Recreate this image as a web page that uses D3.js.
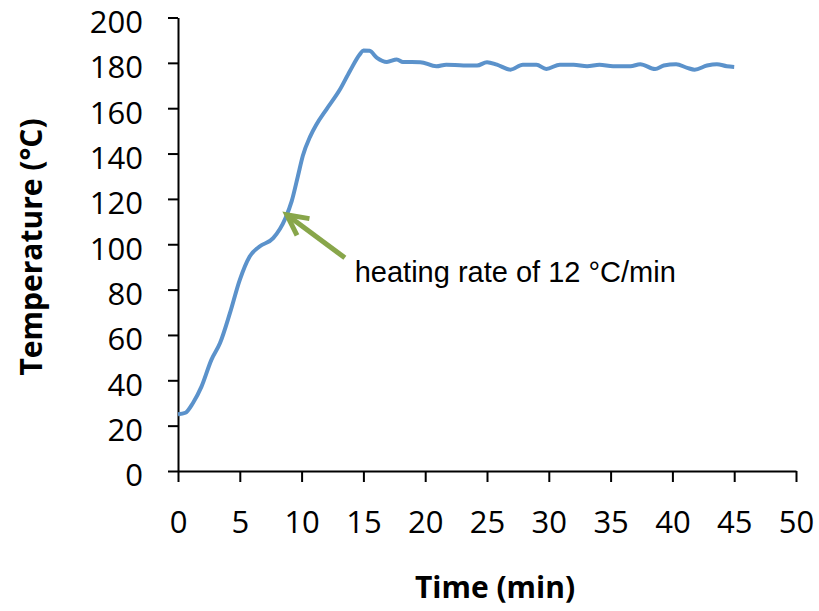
<!DOCTYPE html>
<html>
<head>
<meta charset="utf-8">
<title>Temperature vs time</title>
<script src="https://d3js.org/d3.v7.min.js"></script>
<style>
  body { margin: 0; background: #fff; }
  .axis text { font-family: "Open Sans", sans-serif; font-size: 31px; fill: #000; }
  .axis path, .axis line { stroke: #000; stroke-width: 2px; }
  .title { font-family: "Open Sans", sans-serif; font-weight: bold; font-size: 30px; }
</style>
</head>
<body>
<script>
// time (min) and temperature (°C)
var timeMin = [0, 0.6, 1.2, 1.9, 2.7, 3.4, 4.2, 5.0, 5.8, 6.6, 7.7, 8.7, 9.2, 9.7, 10.1, 10.7, 11.2, 12.0, 13.1, 13.9, 14.7, 15.0, 15.5, 16.1, 16.9, 17.7, 18.2, 19.6, 20.9, 21.7, 23.1, 24.2, 25.0, 25.8, 26.9, 27.9, 29.0, 29.8, 30.9, 32.0, 33.1, 34.1, 35.2, 36.6, 37.4, 38.6, 39.3, 40.3, 41.2, 41.8, 42.8, 43.6, 44.4, 45.0];
var tempC = [25, 25.7, 29.9, 37.2, 49, 56.4, 69.6, 84.3, 94.6, 99, 102.7, 111.6, 119, 130, 139, 147.6, 152.8, 159.4, 168.2, 176.3, 183.7, 185.5, 185.3, 182.2, 180.4, 181.5, 180.4, 180.3, 178.5, 179.2, 178.8, 178.8, 180.3, 179.2, 177, 179.2, 179.2, 177.3, 179.2, 179.2, 178.5, 179.2, 178.5, 178.5, 179.4, 177.3, 178.8, 179.4, 177.8, 177, 178.8, 179.4, 178.5, 178.2];
var xTicks = [0, 5, 10, 15, 20, 25, 30, 35, 40, 45, 50];
var yTicks = [0, 20, 40, 60, 80, 100, 120, 140, 160, 180, 200];
// annotation: arrow tail/tip and label position in data units
var arrowTail = [13.5, 94];
var arrowTip = [8.8, 113];
var noteAt = [14.3, 83.5];
var noteText = "heating rate of 12 °C/min";

var width = 819, height = 611;
var margin = {top: 17.5, right: 23, bottom: 140, left: 178};

var svg = d3.select("body").append("svg")
  .attr("width", width)
  .attr("height", height);

var x = d3.scaleLinear().domain([0, 50]).range([margin.left, width - margin.right]);
var y = d3.scaleLinear().domain([0, 200]).range([height - margin.bottom, margin.top]);

svg.append("g")
  .attr("class", "axis")
  .attr("transform", "translate(0," + y(0) + ")")
  .call(d3.axisBottom(x).tickValues(xTicks).tickSize(11).tickSizeOuter(0).tickPadding(29));

svg.append("g")
  .attr("class", "axis")
  .attr("transform", "translate(" + x(0) + ",0)")
  .call(d3.axisLeft(y).tickValues(yTicks).tickSize(10).tickSizeOuter(0).tickPadding(25))
  .selectAll("text").attr("dy", "0.48em");

var data = timeMin.map(function(t, i) { return {t: t, v: tempC[i]}; });

var line = d3.line()
  .x(function(d) { return x(d.t); })
  .y(function(d) { return y(d.v); })
  .curve(d3.curveMonotoneX);

svg.append("path")
  .datum(data)
  .attr("fill", "none")
  .attr("stroke", "#5b92cb")
  .attr("stroke-width", 4)
  .attr("stroke-linejoin", "round")
  .attr("d", line);

// arrow
var green = "#88a64a";
var tx = x(arrowTip[0]), ty = y(arrowTip[1]);
var sx = x(arrowTail[0]), sy = y(arrowTail[1]);
var ang = Math.atan2(sy - ty, sx - tx);
var headLen = 23, spread = 27 * Math.PI / 180;
svg.append("line")
  .attr("x1", sx).attr("y1", sy).attr("x2", tx).attr("y2", ty)
  .attr("stroke", green).attr("stroke-width", 5);
svg.append("path")
  .attr("d", "M" + (tx + headLen * Math.cos(ang - spread)) + "," + (ty + headLen * Math.sin(ang - spread)) +
             "L" + tx + "," + ty +
             "L" + (tx + headLen * Math.cos(ang + spread)) + "," + (ty + headLen * Math.sin(ang + spread)))
  .attr("fill", "none")
  .attr("stroke", green)
  .attr("stroke-width", 5)
  .attr("stroke-linejoin", "miter");

svg.append("text")
  .attr("x", x(noteAt[0]))
  .attr("y", y(noteAt[1]))
  .attr("font-family", "Liberation Sans, Arial, sans-serif")
  .attr("font-size", 29)
  .text(noteText);

svg.append("text")
  .attr("class", "title")
  .attr("text-anchor", "middle")
  .attr("x", 495)
  .attr("y", 598)
  .text("Time (min)");

svg.append("text")
  .attr("class", "title")
  .attr("text-anchor", "middle")
  .attr("transform", "translate(42,247) rotate(-90)")
  .text("Temperature (°C)");
</script>
</body>
</html>
